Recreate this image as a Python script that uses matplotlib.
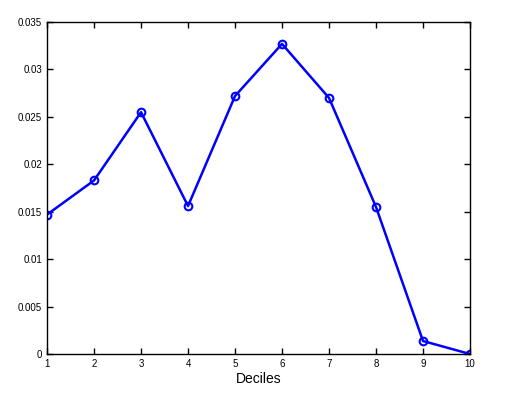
import matplotlib
matplotlib.use('Agg')
import matplotlib.pyplot as plt

deciles = [1, 2, 3, 4, 5, 6, 7, 8, 9, 10]
values = [0.0147, 0.0183, 0.0255, 0.0156, 0.0272, 0.0327, 0.0270, 0.0155, 0.00137, 0.0]
yticks = [0, 0.005, 0.01, 0.015, 0.02, 0.025, 0.03, 0.035]
ytick_labels = ['0', '0.005', '0.01', '0.015', '0.02', '0.025', '0.03', '0.035']

plt.rcParams['font.family'] = ['Liberation Sans', 'DejaVu Sans']

fig = plt.figure(figsize=(5.19, 3.94), dpi=100)
ax = fig.add_axes([0.0906, 0.1015, 0.815, 0.8425])

ax.plot(deciles, values, color='#0000ff', linewidth=1.8, marker='o',
        markersize=5.5, markerfacecolor='none', markeredgewidth=1.5)

ax.set_xlim(1, 10)
ax.set_ylim(0, 0.035)
ax.set_xticks(deciles)
ax.set_yticks(yticks)
ax.set_yticklabels(ytick_labels)
ax.tick_params(direction='in', top=True, right=True, labelsize=7, length=4, width=1)
for s in ax.spines.values():
    s.set_linewidth(1)
ax.set_xlabel('Deciles', fontsize=10, labelpad=2)

fig.savefig('out.png', dpi=100)
